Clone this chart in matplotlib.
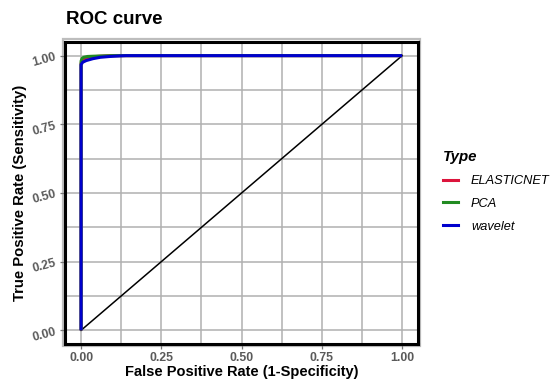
import matplotlib
matplotlib.use("Agg")
import matplotlib.pyplot as plt
from matplotlib.patches import Rectangle
from matplotlib.lines import Line2D

plt.rcParams['font.family'] = ['Liberation Sans', 'DejaVu Sans']

# ROC curve points per model
types = ["ELASTICNET", "PCA", "wavelet"]
colors = ["#DC143C", "#228B22", "#0000CD"]

fpr_elasticnet = [0.0, 0.0, 0.004, 0.010, 0.020, 0.035, 0.060, 0.090, 1.0]
tpr_elasticnet = [0.0, 0.972, 0.982, 0.988, 0.993, 0.996, 0.998, 1.0, 1.0]

fpr_pca = [0.0, 0.0, 0.003, 0.008, 0.020, 0.040, 0.070, 0.100, 0.130, 1.0]
tpr_pca = [0.0, 0.980, 0.990, 0.994, 0.997, 0.998, 0.999, 1.0, 1.0, 1.0]

fpr_wavelet = [0.0, 0.0, 0.005, 0.016, 0.037, 0.060, 0.090, 0.120, 0.140, 1.0]
tpr_wavelet = [0.0, 0.967, 0.976, 0.982, 0.989, 0.994, 0.997, 0.999, 1.0, 1.0]

diag_x = [0.0, 1.0]
diag_y = [0.0, 1.0]

ticks = [0.0, 0.25, 0.5, 0.75, 1.0]
tick_labels = ["0.00", "0.25", "0.50", "0.75", "1.00"]
minor_ticks = [0.125, 0.375, 0.625, 0.875]

fig = plt.figure(figsize=(5.51, 3.80), dpi=100)
ax = fig.add_axes([0.118, 0.0947, 0.641, 0.795])

ax.set_xlim(-0.05, 1.05)
ax.set_ylim(-0.05, 1.05)

ax.set_xticks(ticks)
ax.set_yticks(ticks)
ax.set_xticks(minor_ticks, minor=True)
ax.set_yticks(minor_ticks, minor=True)
ax.set_xticklabels(tick_labels)
ax.set_yticklabels(tick_labels, rotation=15)
ax.grid(True, which="both", color="#B0B0B0", linewidth=1.1)
ax.set_axisbelow(True)
ax.tick_params(which="minor", length=0)
ax.tick_params(which="major", length=3.5, width=0.9, color="#777777",
               labelsize=8.8, labelcolor="#5A5A5A", pad=2)
for lab in ax.get_xticklabels() + ax.get_yticklabels():
    lab.set_fontweight("bold")

for s in ax.spines.values():
    s.set_color("black")
    s.set_linewidth(2.2)

# light outer frame around the panel
frame = Rectangle((-0.006, -0.008), 1.012, 1.016, transform=ax.transAxes,
                  fill=False, edgecolor="#BDBDBD", linewidth=1.6, clip_on=False, zorder=0)
ax.add_patch(frame)

series = [(fpr_elasticnet, tpr_elasticnet), (fpr_pca, tpr_pca), (fpr_wavelet, tpr_wavelet)]
for (fx, ty), c in zip(series, colors):
    ax.plot(fx, ty, color=c, linewidth=2.2, solid_capstyle="butt", zorder=3)
ax.plot(diag_x, diag_y, color="black", linewidth=1.1, zorder=2)

ax.set_xlabel("False Positive Rate (1-Specificity)", fontsize=10.5, fontweight="bold", labelpad=1)
ax.set_ylabel("True Positive Rate (Sensitivity)", fontsize=10.7, fontweight="bold", labelpad=3)
fig.text(0.12, 0.925, "ROC curve", fontsize=13.5, fontweight="bold", ha="left", va="bottom")

handles = [Line2D([0], [0], color=c, linewidth=2.2) for c in colors]
leg = fig.legend(handles, types, loc="upper left", bbox_to_anchor=(0.783, 0.635),
                 frameon=False, title="Type", handlelength=1.2, handletextpad=1.0,
                 labelspacing=0.85, prop={"style": "italic", "size": 9.2})
leg.get_title().set_fontsize(10.8)
leg.get_title().set_fontweight("bold")
leg.get_title().set_fontstyle("italic")
leg._legend_box.align = "left"

fig.savefig("out.png", dpi=100)
